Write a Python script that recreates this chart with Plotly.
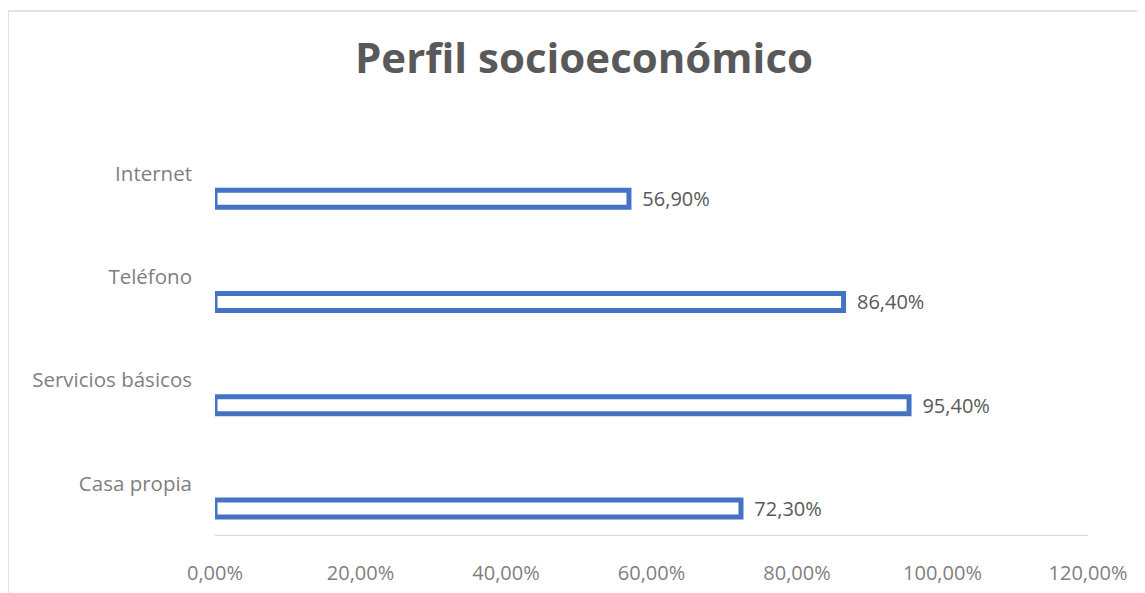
import plotly.graph_objects as go

categories = ["Casa propia", "Servicios básicos", "Teléfono", "Internet"]
values = [0.723, 0.954, 0.864, 0.569]
x_ticks = [0, 0.2, 0.4, 0.6, 0.8, 1.0, 1.2]
title_text = "Perfil socioeconómico"

# page body has an 8px margin; work in reference pixels minus 8
OFF = 8
W, H = 1145 - OFF, 593 - OFF
L, R, T, B = 215 - OFF, 57, 122 - OFF, 58
pw, ph = W - L - R, H - T - B

fig = go.Figure()
fig.add_trace(go.Bar(
    y=categories,
    x=values,
    orientation="h",
    width=0.165,
    offset=-0.325,
    marker=dict(color="white", line=dict(color="#4472C4", width=5)),
    texttemplate="  %{x:.2%}",
    textposition="outside",
    constraintext="none",
    textfont=dict(family="Open Sans", size=20, color="#595959"),
    cliponaxis=False,
    hoverinfo="skip",
))

fig.update_layout(
    width=W, height=H,
    margin=dict(l=L, r=R, t=T, b=B, autoexpand=False),
    paper_bgcolor="white",
    plot_bgcolor="white",
    separators=",.",
    showlegend=False,
    title=dict(
        text="<b>" + title_text + "</b>",
        font=dict(family="Open Sans", size=42, color="#595959"),
        x=(584 - OFF) / W, xref="container", xanchor="center",
        y=1 - (58 - OFF) / H, yref="container", yanchor="middle",
        automargin=False,
    ),
    xaxis=dict(
        range=[0, 1.2],
        tickvals=x_ticks,
        tickformat=".2%",
        showgrid=False,
        zeroline=False,
        showline=True,
        linecolor="#d9d9d9",
        linewidth=1,
        ticks="",
        ticklabelstandoff=20,
        automargin=False,
        tickfont=dict(family="Open Sans", size=20, color="#7f7f7f"),
    ),
    yaxis=dict(
        range=[-0.5, 3.5],
        showgrid=False,
        zeroline=False,
        showline=False,
        ticks="",
        ticklabelstandoff=22,
        automargin=False,
        tickfont=dict(family="Open Sans", size=20.5, color="#7f7f7f"),
    ),
    shapes=[dict(
        type="rect", xref="paper", yref="paper",
        x0=(8 - 215) / pw, x1=(1150 - 215) / pw,
        y0=(535 - 600) / ph, y1=(535 - 11) / ph,
        line=dict(color="#d9d9d9", width=1.5),
        fillcolor="rgba(0,0,0,0)",
        layer="below",
    )],
)

fig.write_html("out.html")
